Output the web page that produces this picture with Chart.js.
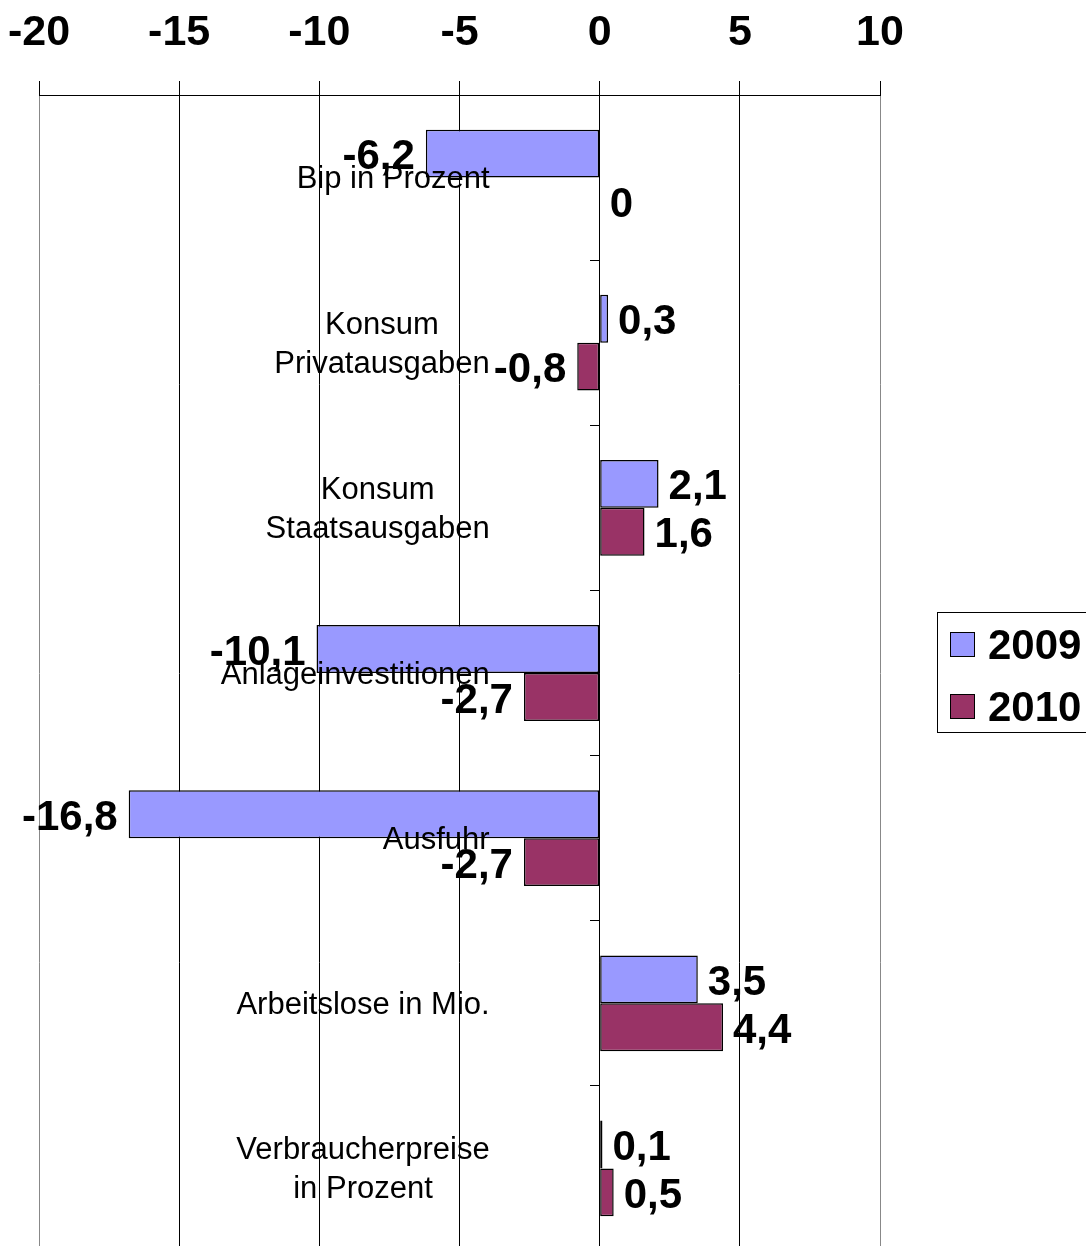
<!DOCTYPE html>
<html>
<head>
<meta charset="utf-8">
<title>Prognose 2009 / 2010</title>
<script src="https://cdn.jsdelivr.net/npm/chart.js@4.4.1/dist/chart.umd.min.js"></script>
<style>
  html, body { margin: 0; padding: 0; overflow: hidden; background: #fff; }
  canvas { display: block; }
</style>
</head>
<body>
<canvas id="prognoseChart" width="1086" height="1252"></canvas>
<script>
const categories = [
  ['Bip in Prozent'],
  ['Konsum', 'Privatausgaben'],
  ['Konsum', 'Staatsausgaben'],
  ['Anlageinvestitionen'],
  ['Ausfuhr'],
  ['Arbeitslose in Mio.'],
  ['Verbraucherpreise', 'in Prozent']
];
const values2009 = [-6.2, 0.3, 2.1, -10.1, -16.8, 3.5, 0.1];
const values2010 = [0, -0.8, 1.6, -2.7, -2.7, 4.4, 0.5];
const seriesNames = ['2009', '2010'];
const xTicks = [-20, -15, -10, -5, 0, 5, 10];

const FONT = '"Liberation Sans", Arial, Helvetica, sans-serif';

// value labels at the end of each bar, german decimal comma
const valueLabels = {
  id: 'valueLabels',
  afterDatasetsDraw(chart) {
    const ctx = chart.ctx;
    ctx.save();
    ctx.font = 'bold 42px ' + FONT;
    ctx.fillStyle = '#000';
    ctx.textBaseline = 'middle';
    chart.data.datasets.forEach((ds, di) => {
      chart.getDatasetMeta(di).data.forEach((bar, i) => {
        const v = ds.data[i];
        const txt = String(v).replace('.', ',');
        if (v < 0) {
          ctx.textAlign = 'right';
          ctx.fillText(txt, bar.x - 11, bar.y + 4);
        } else {
          ctx.textAlign = 'left';
          ctx.fillText(txt, bar.x + 10, bar.y + 4);
        }
      });
    });
    ctx.restore();
  }
};

// category names sit left of the zero line, lines centered in the block
const categoryLabels = {
  id: 'categoryLabels',
  afterDatasetsDraw(chart) {
    const ctx = chart.ctx;
    const xs = chart.scales.x, ys = chart.scales.y;
    const right = xs.getPixelForValue(0) - 110;
    ctx.save();
    ctx.font = '31px ' + FONT;
    ctx.fillStyle = '#000';
    ctx.textAlign = 'center';
    ctx.textBaseline = 'middle';
    categories.forEach((lines, i) => {
      const w = Math.max(...lines.map(l => ctx.measureText(l).width));
      const cx = right - w / 2;
      const cy = ys.getPixelForValue(i) + 2;
      lines.forEach((l, j) => {
        ctx.fillText(l, cx, cy + (j - (lines.length - 1) / 2) * 39);
      });
    });
    ctx.restore();
  }
};

// excel style legend box on the right
const boxLegend = {
  id: 'boxLegend',
  afterDraw(chart) {
    const ctx = chart.ctx;
    const left = chart.chartArea.right + 57;
    const top = 612;
    ctx.save();
    ctx.strokeStyle = '#000';
    ctx.lineWidth = 1;
    ctx.strokeRect(left + 0.5, top + 0.5, 170, 120);
    ctx.font = 'bold 42px ' + FONT;
    ctx.textAlign = 'left';
    ctx.textBaseline = 'middle';
    chart.data.datasets.forEach((ds, i) => {
      const y = top + 20 + i * 62;
      ctx.fillStyle = ds.backgroundColor;
      ctx.fillRect(left + 13, y, 25, 25);
      ctx.strokeRect(left + 13.5, y + 0.5, 24, 24);
      ctx.fillStyle = '#000';
      ctx.fillText(ds.label, left + 51, y + 15);
    });
    ctx.restore();
  }
};

new Chart(document.getElementById('prognoseChart'), {
  type: 'bar',
  data: {
    labels: categories,
    datasets: [
      {
        label: seriesNames[0],
        data: values2009,
        backgroundColor: '#9999FF',
        borderColor: '#000',
        borderWidth: 1.5,
        borderSkipped: false
      },
      {
        label: seriesNames[1],
        data: values2010,
        backgroundColor: '#993366',
        borderColor: '#000',
        borderWidth: 1.5,
        borderSkipped: false
      }
    ]
  },
  options: {
    indexAxis: 'y',
    responsive: false,
    animation: false,
    devicePixelRatio: 1,
    layout: { padding: { left: 39, right: 206, top: 0, bottom: 1 } },
    datasets: {
      bar: { categoryPercentage: 0.58, barPercentage: 1 }
    },
    plugins: {
      legend: { display: false },
      tooltip: { enabled: false }
    },
    scales: {
      x: {
        type: 'linear',
        position: 'top',
        min: -20,
        max: 10,
        afterBuildTicks: axis => { axis.ticks = xTicks.map(v => ({ value: v })); },
        afterFit: axis => {
          axis.height = 95;
          axis.paddingLeft = 0;
          axis.paddingRight = 0;
        },
        ticks: {
          color: '#000',
          padding: 22,
          font: { family: FONT, size: 43, weight: 'bold', lineHeight: 1.2 }
        },
        grid: {
          color: c => (c.tick && (c.tick.value === -20 || c.tick.value === 10)) ? '#888' : '#000',
          tickColor: '#000',
          tickLength: 14,
          lineWidth: 1
        },
        border: { display: true, color: '#000', width: 1 }
      },
      y: {
        type: 'category',
        position: { x: 0 },
        ticks: { display: false },
        grid: {
          drawOnChartArea: false,
          tickLength: 9,
          color: '#000'
        },
        border: { display: true, color: '#000', width: 1 }
      }
    }
  },
  plugins: [valueLabels, categoryLabels, boxLegend]
});
</script>
</body>
</html>
